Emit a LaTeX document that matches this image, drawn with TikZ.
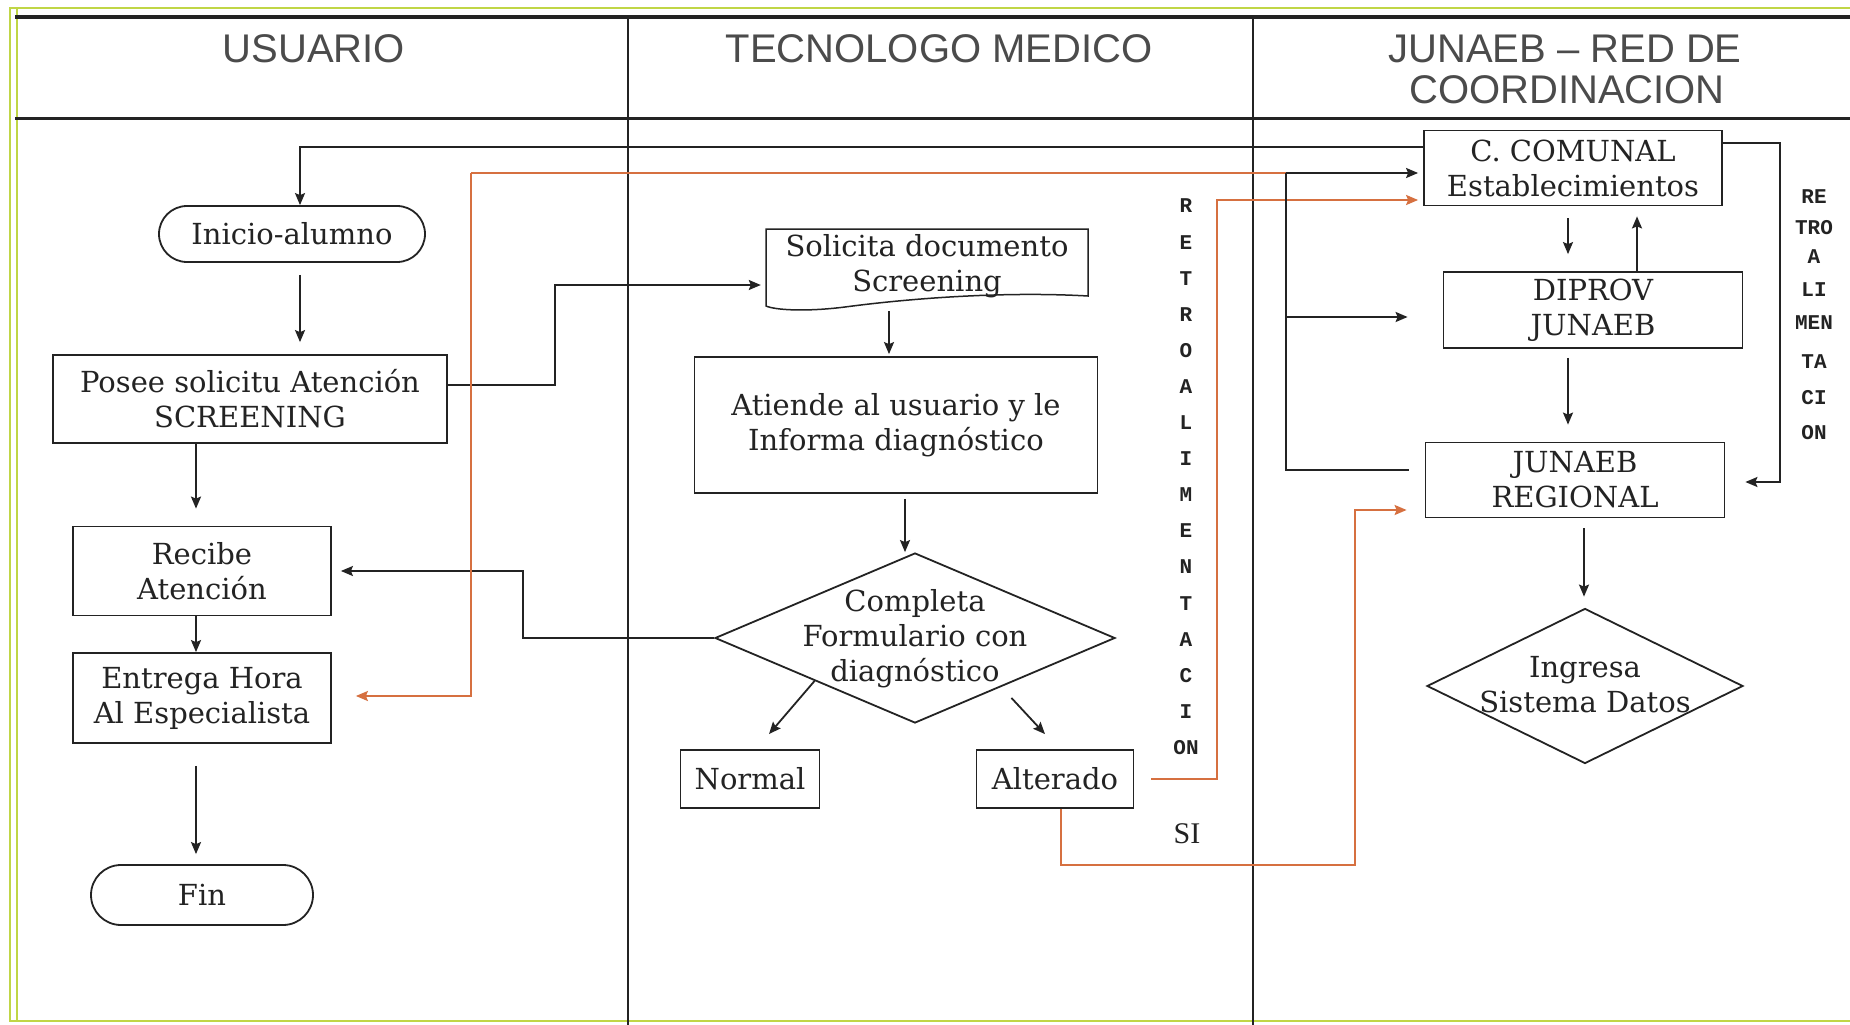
\documentclass[tikz,border=0pt]{standalone}
\usepackage{fontspec}
\usetikzlibrary{arrows.meta,shapes.misc,shapes.geometric,calc}
\setmainfont{DejaVu Serif}
\newfontfamily\hdrfont{Liberation Sans}
\newfontfamily\monofnt{Liberation Mono}
\newfontfamily\sifont{Liberation Serif}
\definecolor{ink}{RGB}{35,35,35}
\definecolor{hdrink}{RGB}{75,75,75}
\definecolor{orng}{RGB}{214,112,64}
\definecolor{frameg}{RGB}{192,214,70}
\newcommand\boxfnt{\fontsize{29}{35}\selectfont}
\newcommand\hdrfnt{\hdrfont\fontsize{40}{41}\selectfont}
\newcommand\vfnt{\monofnt\bfseries\fontsize{21}{21}\selectfont}
\begin{document}
\begin{tikzpicture}[x=1pt,y=-1pt,
  box/.style={draw=ink, line width=1.8pt, align=center, font=\boxfnt, text=ink, inner sep=0pt},
  stadium/.style={box, rounded rectangle},
  dia/.style={box, diamond},
  hdr/.style={font=\hdrfnt, text=hdrink, align=center, inner sep=0pt},
  vlet/.style={font=\vfnt, text=ink, inner sep=0pt},
  conn/.style={draw=ink, line width=1.8pt},
  arr/.style={conn, -{Stealth[length=12pt,width=10pt,inset=2pt]}},
  oarr/.style={draw=orng, line width=1.8pt, -{Stealth[length=12pt,width=10pt,inset=2pt]}},
  ocon/.style={draw=orng, line width=1.8pt}]
\useasboundingbox (0,0) rectangle (1850,1025);
\fill[white] (0,0) rectangle (1850,1025);
% frame
\draw[frameg, line width=2.5pt] (10,8) rectangle (1880,1021);
\draw[frameg, line width=1.5pt] (17,8) -- (17,1021);
\draw[ink, line width=4pt] (15,17) -- (1850,17);
\draw[ink, line width=3pt] (15,118) -- (1850,118);
\draw[ink, line width=2pt] (628,17) -- (628,1025);
\draw[ink, line width=2pt] (1253,17) -- (1253,1025);
% headers
\node[hdr] (h1) at (314,49) {USUARIO};
\node[hdr] (h2) at (939,49) {TECNOLOGO MEDICO};
\node[hdr] (h3) at (1565,49) {JUNAEB – RED DE};
\node[hdr] (h4) at (1567,90) {COORDINACION};
% left column
\node[stadium, minimum width=266, minimum height=56] (ini) at (292,234) {Inicio-alumno};
\node[box, minimum width=394, minimum height=88] (posee) at (250,399) {Posee solicitu Atención\\SCREENING};
\node[box, minimum width=258, minimum height=89] (recibe) at (202,571) {Recibe\\Atención};
\node[box, minimum width=258, minimum height=90] (entrega) at (202,698) {Entrega Hora\\Al Especialista};
\node[stadium, minimum width=222, minimum height=60] (fin) at (202,895) {Fin};
% middle column
\node[align=center, font=\boxfnt, text=ink, inner sep=0pt, minimum width=322, minimum height=80] (sol) at (927,266) {Solicita documento\\Screening};
\draw[ink, line width=1.5pt] (766,229) -- (1088,229) -- (1088,296)
  .. controls (1000,291) and (905,299) .. (845,307)
  .. controls (805,312) and (775,310) .. (766,306) -- cycle;
\node[box, minimum width=403, minimum height=136] (atiende) at (896,425) {Atiende al usuario y le\\Informa diagnóstico};
\node[dia, minimum width=400, minimum height=170] (comp) at (915,638)
  {\raisebox{-8pt}[0pt][0pt]{\makebox[0pt]{\begin{tabular}{@{}c@{}}Completa\\Formulario con\\diagnóstico\end{tabular}}}};
\node[box, minimum width=139, minimum height=58] (normal) at (750,779) {Normal};
\node[box, minimum width=157, minimum height=58] (alterado) at (1055,779) {Alterado};
% vertical word (middle)
\foreach \l [count=\i from 0] in {R,E,T,R,O,A,L,I,M,E,N,T,A,C,I,ON}
  \node[vlet] (vl\i) at (1186,{206+36.1*\i}) {\l};
\node[font=\sifont\fontsize{30}{30}\selectfont, text=ink, inner sep=0pt] (si) at (1187,834) {SI};
% right column
\node[box, minimum width=298, minimum height=75] (ccom) at (1573,168) {C. COMUNAL\\Establecimientos};
\node[box, minimum width=299, minimum height=76] (diprov) at (1593,310) {DIPROV\\JUNAEB};
\node[box, minimum width=299, minimum height=75] (regional) at (1575,480) {JUNAEB\\REGIONAL};
\node[dia, minimum width=316, minimum height=155] (ingresa) at (1585,686)
  {\raisebox{-8pt}[0pt][0pt]{\makebox[0pt]{\begin{tabular}{@{}c@{}}Ingresa\\Sistema Datos\end{tabular}}}};
% vertical word (right)
\node[vlet] (r1) at (1814,197) {RE};
\node[vlet] (r2) at (1814,228) {TRO};
\node[vlet] (r3) at (1814,257) {A};
\node[vlet] (r4) at (1814,290) {LI};
\node[vlet] (r5) at (1814,323) {MEN};
\node[vlet] (r6) at (1814,362) {TA};
\node[vlet] (r7) at (1814,398) {CI};
\node[vlet] (r8) at (1814,433) {ON};
% connectors left
\draw[arr] ([yshift=21pt]ccom.west) -| (300,0 |- ini.north);
\draw[arr, shorten <=12pt, shorten >=12pt] (300,0 |- ini.south) -- (300,0 |- posee.north);
\draw[arr] ([yshift=14pt]posee.east) -| (555,285) -- ([xshift=-5pt,yshift=-19pt]sol.west);
\draw[arr, shorten >=17pt] (196,0 |- posee.south) -- (196,0 |- recibe.north);
\draw[arr] (196,0 |- recibe.south) -- (196,0 |- entrega.north);
\draw[arr, shorten <=22pt, shorten >=10pt] (196,0 |- entrega.south) -- (196,0 |- fin.north);
\draw[arr] (comp.west) -- (523,0 |- comp.west) |- ([xshift=9pt]recibe.east);
% connectors middle
\draw[arr, shorten <=5pt, shorten >=2pt] (889,0 |- sol.south) -- (889,0 |- atiende.north);
\draw[arr, shorten <=5pt] (905,0 |- atiende.south) -- (905,0 |- comp.north);
\draw[arr] (comp.south west) -- ([xshift=19pt,yshift=15pt]normal.north);
\draw[arr] ([xshift=-4pt,yshift=-17pt]comp.south east) -- ([xshift=-10pt,yshift=15pt]alterado.north);
% orange connectors
\coordinate (br) at (1286,173);
\draw[ocon] (br) -- (471,173);
\draw[oarr] (471,173) |- ([xshift=24pt,yshift=2pt]entrega.east);
\draw[oarr] ([xshift=17pt]alterado.east) -| (1217,200) -- ([xshift=-5pt,yshift=-32pt]ccom.west);
\draw[oarr] ([xshift=6pt]alterado.south) |- (1355,865) |- ([xshift=-18pt,yshift=-30pt]regional.west);
% right column connectors
\draw[conn] ([xshift=-16pt,yshift=10pt]regional.west) -| (br);
\draw[arr] (br) -- ([xshift=-5pt,yshift=-5pt]ccom.west);
\draw[arr] (1286,317) -- ([xshift=-35pt,yshift=-7pt]diprov.west);
\draw[arr] ([yshift=25pt]ccom.east) -| (1780,482) -- ([xshift=20pt,yshift=-2pt]regional.east);
\draw[arr, shorten <=12pt, shorten >=17pt] (1568,0 |- ccom.south) -- (1568,0 |- diprov.north);
\draw[arr, shorten >=10pt] (1637,0 |- diprov.north) -- (1637,0 |- ccom.south);
\draw[arr, shorten <=9pt, shorten >=17pt] (1568,0 |- diprov.south) -- (1568,0 |- regional.north);
\draw[arr, shorten <=10pt, shorten >=11pt] (1584,0 |- regional.south) -- (1584,0 |- ingresa.north);
\end{tikzpicture}
\end{document}
